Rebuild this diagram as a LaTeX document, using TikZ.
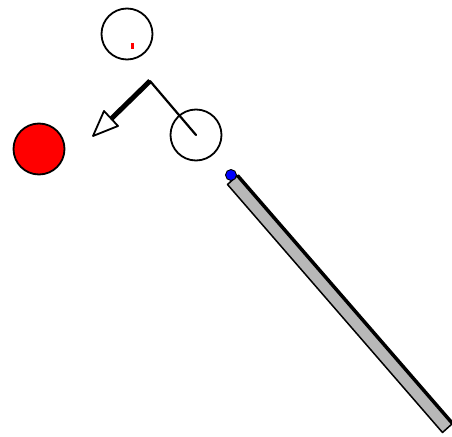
\documentclass[tikz,border=0pt]{standalone}
\begin{document}
\begin{tikzpicture}[
  x=1pt, y=-1pt,
  ball/.style={draw, circle, line width=1.8pt, minimum size=51pt, inner sep=0pt},
  aim/.style={line width=2.2pt, line cap=round, line join=round}
]
\useasboundingbox (0,0) rectangle (452,436);
\clip (0,0) rectangle (452,436);
\node[ball]           (ghost) at (127,34)  {};
\node[ball]           (cue)   at (196,135) {};
\node[ball, fill=red] (obj)   at (39,149)  {};
\fill[red] (130.5,43.5) rectangle (133.5,49.5);
% aiming arrow
\coordinate (apex) at (150,81);
\coordinate (tail) at (110,120);
\draw[aim] (cue.center) -- (apex);
\draw[line width=5pt] (apex) -- (tail);
\draw[aim, line width=1.8pt, fill=white] (93,136) -- (104,111) -- (118,126) -- cycle;
% cue stick
\draw[line width=1.5pt, fill=black!28, line join=round]
  (237.5,175.5) -- (452.5,423.5) -- (442.5,432.5) -- (227.5,184.5) -- cycle;
\draw[line width=3.5pt] (237.5,175.5) -- (452.5,423.5);
\draw[fill=blue, line width=0.9pt] (231,175) circle (5.5);
\end{tikzpicture}
\end{document}
